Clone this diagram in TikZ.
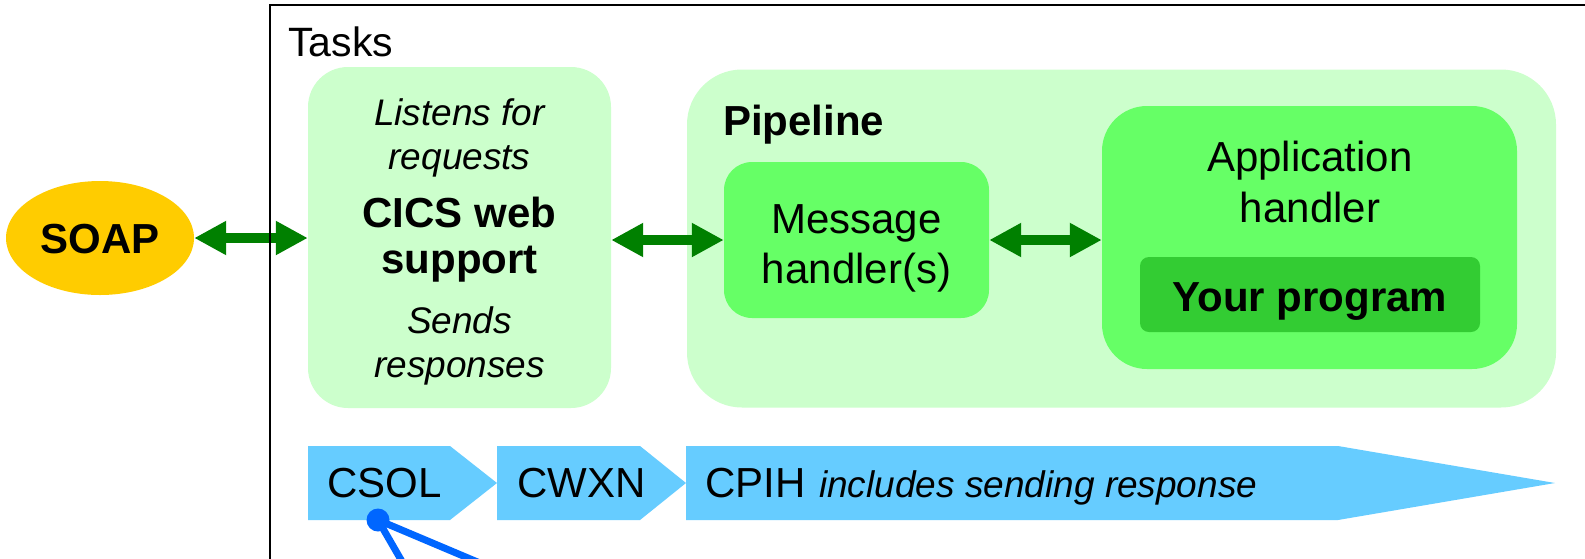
\documentclass[tikz,border=0pt]{standalone}
\usepackage{fontspec}
\setmainfont{Liberation Sans}
\usetikzlibrary{arrows.meta,shapes.geometric}
\definecolor{lgreen}{HTML}{CCFFCC}
\definecolor{mgreen}{HTML}{66FF66}
\definecolor{dgreen}{HTML}{33CC33}
\definecolor{agreen}{HTML}{008000}
\definecolor{soapc}{HTML}{FFCC00}
\definecolor{chev}{HTML}{66CCFF}
\definecolor{bline}{HTML}{0066FF}
\begin{document}
\begin{tikzpicture}[x=1pt,y=-1pt,
  box/.style={draw=none, rectangle, inner sep=0pt},
  big/.style={font=\fontsize{42}{48}\selectfont, inner sep=0pt},
  itx/.style={font=\fontsize{37}{44}\selectfont\itshape, inner sep=0pt},
  bfx/.style={font=\fontsize{42}{48}\selectfont\bfseries, inner sep=0pt},
  garrow/.style={draw=agreen, line width=10pt, {Triangle[length=32pt,width=32pt]}-{Triangle[length=32pt,width=32pt]}},
  chevron/.style={fill=chev},
  ]
\useasboundingbox (0,0) rectangle (1585,558);
\fill[white] (0,0) rectangle (1585,558);

% main boxes
\node[ellipse, fill=soapc, minimum width=188pt, minimum height=114pt, inner sep=0pt] (soap) at (100,238) {};
\node[box, fill=lgreen, rounded corners=40pt, minimum width=303pt, minimum height=341pt] (cics) at (459.5,237.5) {};
\node[box, fill=lgreen, rounded corners=55pt, minimum width=869pt, minimum height=338pt] (pipe) at (1121.5,238.5) {};
\node[box, fill=mgreen, rounded corners=28pt, minimum width=265pt, minimum height=156pt] (msg) at (856.5,240) {};
\node[box, fill=mgreen, rounded corners=45pt, minimum width=415pt, minimum height=263pt] (app) at (1309.5,237.5) {};
\node[box, fill=dgreen, rounded corners=9pt, minimum width=340pt, minimum height=75pt] (prog) at (1310,294.5) {};

% arrows
\draw[garrow] (soap.east) -- (soap.east -| cics.west);
\draw[garrow] (cics.east |- msg.west) -- (msg.west);
\draw[garrow] (msg.east) -- (msg.east -| app.west);

% texts
\node[bfx, anchor=base] (soapt) at (100,253) {SOAP};
\node[itx, anchor=base] (l1) at (459.5,125) {Listens for};
\node[itx, anchor=base] (l2) at (459.5,169) {requests};
\node[bfx, anchor=base] (l3) at (459.5,227) {CICS web};
\node[bfx, anchor=base] (l4) at (459.5,273) {support};
\node[itx, anchor=base] (l5) at (459.5,333) {Sends};
\node[itx, anchor=base] (l6) at (459.5,377) {responses};
\node[bfx, anchor=base west] (pipet) at (723,135) {Pipeline};
\node[big, anchor=base] (msg1) at (856.5,233) {Message};
\node[big, anchor=base] (msg2) at (856.5,283) {handler(s)};
\node[big, anchor=base] (app1) at (1310,171) {Application};
\node[big, anchor=base] (app2) at (1310,222) {handler};
\node[bfx, anchor=base] (progt) at (1310,311) {Your program};

% chevrons
\fill[chevron] (308,446) -- (450,446) -- (497,483) -- (450,520) -- (308,520) -- cycle;
\fill[chevron] (497,446) -- (640,446) -- (686,483) -- (640,520) -- (497,520) -- cycle;
\fill[chevron] (686,446) -- (1338,446) -- (1555,483) -- (1338,520) -- (686,520) -- cycle;
\node[big, anchor=base west] (csol) at (327,497) {CSOL};
\node[big, anchor=base west] (cwxn) at (517,497) {CWXN};
\node[big, anchor=base west] (cpih) at (705,497) {CPIH};
\node[itx, anchor=base west] (cpiht) at (819,497) {includes sending response};

% blue connectors
\coordinate (dot) at (378,520);
\coordinate (e1) at (444,634);
\coordinate (e2) at (648,634);
\draw[bline, line width=7pt] (dot) -- (e1);
\draw[bline, line width=7pt] (dot) -- (e2);
\fill[bline] (dot) circle (11.5pt);

% tasks frame
\draw[line width=2.5pt] (270,5) rectangle (1700,700);
\node[font=\fontsize{41}{48}\selectfont, inner sep=0pt, anchor=base west] (tasks) at (288,56) {Tasks};
\end{tikzpicture}
\end{document}
